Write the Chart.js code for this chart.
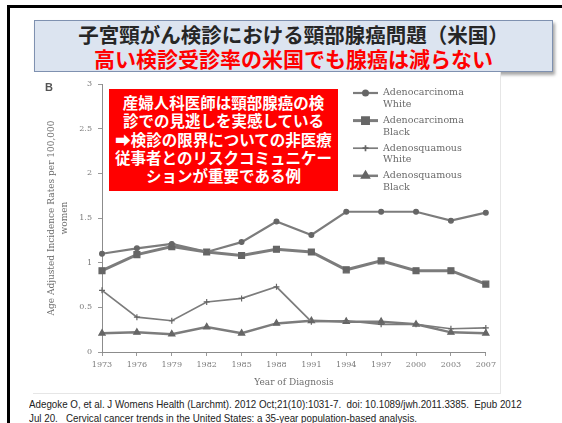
<!DOCTYPE html>
<html lang="ja">
<head>
<meta charset="utf-8">
<title>子宮頸がん検診における頸部腺癌問題（米国）</title>
<script src="https://cdn.jsdelivr.net/npm/chart.js@4.4.1/dist/chart.umd.min.js"></script>
<style>
  html, body { margin: 0; padding: 0; background: #fff; }
  body { width: 562px; height: 423px; position: relative; overflow: hidden; }
  .frame-left { position: absolute; left: 7px; top: 5px; width: 3px; height: 418px; background: #000; }
  .frame-top { position: absolute; left: 7px; top: 5px; width: 555px; height: 3px; background: #000; }
  .title-box {
    position: absolute; left: 34px; top: 20px; width: 517px; height: 50px;
    background: #dce4f0; border: 1px solid #7f91b0;
    box-shadow: 2px 3px 3px rgba(0, 0, 0, 0.35);
    font-family: "Noto Sans CJK JP", sans-serif; font-weight: bold; text-align: center;
  }
  .title-box .l1 { color: #262626; font-size: 20.5px; line-height: 24px; margin-top: 1px; }
  .title-box .l2 { color: #ff0000; font-size: 21px; line-height: 25px; }
  .chart-wrap {
    position: absolute; left: 33px; top: 72px; width: 467px; height: 321px;
    background: #fff; border-right: 1px solid #e6e6e6; border-bottom: 1px solid #e6e6e6;
  }
  .chart-wrap canvas { filter: blur(0.5px); }
  .note {
    position: absolute; left: 109px; top: 89px; width: 229px; height: 102px;
    background: #ff0000; color: #fff; text-align: center;
    font-family: "Noto Sans CJK JP", sans-serif; font-weight: bold;
    font-size: 15.5px; line-height: 18.3px; padding-top: 4px; box-sizing: border-box;
    white-space: nowrap;
  }
  .ref {
    position: absolute; left: 29px; top: 397px;
    font-family: "Liberation Sans", sans-serif;
    font-size: 11px; line-height: 14px; color: #222; white-space: nowrap;
    transform: scaleX(0.89); transform-origin: 0 0;
  }
</style>
</head>
<body>
<div class="frame-left"></div>
<div class="frame-top"></div>
<div class="title-box">
  <div class="l1">子宮頸がん検診における頸部腺癌問題（米国）</div>
  <div class="l2">高い検診受診率の米国でも腺癌は減らない</div>
</div>
<div class="chart-wrap"><canvas id="incidenceChart"></canvas></div>
<div class="note">産婦人科医師は頸部腺癌の検<br>診での見逃しを実感している<br>➡検診の限界についての非医療<br>従事者とのリスクコミュニケー<br>ションが重要である例</div>
<div class="ref">Adegoke O, et al. J Womens Health (Larchmt). 2012 Oct;21(10):1031-7.&nbsp; doi: 10.1089/jwh.2011.3385.&nbsp; Epub 2012<br>Jul 20.&nbsp;&nbsp; Cervical cancer trends in the United States: a 35-year population-based analysis.</div>

<script>
// year of diagnosis (category axis)
const years = ['1973', '1976', '1979', '1982', '1985', '1988', '1991', '1994', '1997', '2000', '2003', '2007'];

// age adjusted incidence rates per 100,000 women
const adenoWhite = [1.10, 1.16, 1.21, 1.12, 1.23, 1.46, 1.31, 1.57, 1.57, 1.57, 1.47, 1.56];
const adenoBlack = [0.91, 1.09, 1.18, 1.12, 1.08, 1.15, 1.12, 0.92, 1.02, 0.91, 0.91, 0.76];
const adsqWhite = [0.69, 0.39, 0.35, 0.56, 0.60, 0.73, 0.34, 0.35, 0.31, 0.31, 0.26, 0.27];
const adsqBlack = [0.21, 0.22, 0.20, 0.28, 0.21, 0.32, 0.35, 0.34, 0.34, 0.31, 0.22, 0.21];

const seriesNames = [
    ['Adenocarcinoma', 'White'],
    ['Adenocarcinoma', 'Black'],
    ['Adenosquamous', 'White'],
    ['Adenosquamous', 'Black']
];

const yTicks = [0, 0.5, 1, 1.5, 2, 2.5, 3];

const serif = 'DejaVu Serif, Liberation Serif, serif';
const lineGray = '#7c7c7c';
const markGray = '#666';

function series(label, data, style, radius, width) {
    return {
        label: label.join(' '),
        data: data,
        borderColor: lineGray,
        borderWidth: width,
        pointStyle: style,
        pointRadius: radius,
        pointBackgroundColor: markGray,
        pointBorderColor: markGray,
        pointBorderWidth: 1.2,
        tension: 0,
        fill: false
    };
}

// legend in the upper right of the plot, two text lines per series
const inlineLegend = {
    id: 'inlineLegend',
    afterDatasetsDraw(chart) {
        const ctx = chart.ctx;
        ctx.save();
        chart.data.datasets.forEach((ds, i) => {
            const y = 21 + i * 27.6;
            ctx.strokeStyle = ds.borderColor;
            ctx.lineWidth = ds.borderWidth;
            ctx.beginPath();
            ctx.moveTo(320, y);
            ctx.lineTo(345, y);
            ctx.stroke();
            ctx.fillStyle = ds.pointBackgroundColor;
            ctx.strokeStyle = ds.pointBorderColor;
            Chart.helpers.drawPoint(ctx, {
                pointStyle: ds.pointStyle,
                radius: ds.pointRadius,
                rotation: 0,
                borderWidth: ds.pointBorderWidth
            }, 332.5, y);
            ctx.fillStyle = '#6a6a6a';
            ctx.font = '9.5px ' + serif;
            ctx.textBaseline = 'middle';
            ctx.textAlign = 'left';
            seriesNames[i].forEach((t, k) => ctx.fillText(t, 350, y + k * 11.5));
        });
        // panel letter
        ctx.fillStyle = '#555';
        ctx.font = 'bold 11px Liberation Sans, sans-serif';
        ctx.fillText('B', 12, 16);
        ctx.restore();
    }
};

const ctx = document.getElementById('incidenceChart').getContext('2d');
const incidenceChart = new Chart(ctx, {
    type: 'line',
    data: {
        labels: years,
        datasets: [
            series(seriesNames[0], adenoWhite, 'circle', 2.4, 2.2),
            series(seriesNames[1], adenoBlack, 'rect', 4.2, 3),
            series(seriesNames[2], adsqWhite, 'cross', 3, 1.7),
            series(seriesNames[3], adsqBlack, 'triangle', 3.6, 2.5)
        ]
    },
    plugins: [inlineLegend],
    options: {
        responsive: true,
        maintainAspectRatio: false,
        animation: false,
        layout: {
            padding: { top: 12, right: 12, left: 0, bottom: 0 }
        },
        plugins: {
            legend: { display: false },
            tooltip: { enabled: false }
        },
        scales: {
            x: {
                type: 'category',
                offset: false,
                afterFit: (scale) => { scale.height = 41; },
                grid: {
                    drawOnChartArea: false,
                    tickLength: 4,
                    color: '#999'
                },
                border: { color: '#8c8c8c', width: 1 },
                ticks: {
                    color: '#7a7a7a',
                    font: { family: serif, size: 8 },
                    padding: 4,
                    maxRotation: 0,
                    autoSkip: false
                },
                title: {
                    display: true,
                    text: 'Year of Diagnosis',
                    color: '#6f6f6f',
                    font: { family: serif, size: 9, lineHeight: 1.2 },
                    padding: { top: 0, bottom: 5 }
                }
            },
            y: {
                min: 0,
                max: 3,
                afterFit: (scale) => { scale.width = 69; },
                afterBuildTicks: (scale) => {
                    scale.ticks = yTicks.map(v => ({ value: v }));
                },
                grid: {
                    drawOnChartArea: false,
                    tickLength: 4,
                    color: '#999'
                },
                border: { color: '#8c8c8c', width: 1 },
                ticks: {
                    color: '#7a7a7a',
                    font: { family: serif, size: 8 },
                    padding: 6,
                    callback: (v) => String(v)
                },
                title: {
                    display: true,
                    text: ['Age Adjusted Incidence Rates per 100,000', 'women'],
                    color: '#6f6f6f',
                    font: { family: serif, size: 9, lineHeight: 1.35 },
                    padding: { top: 13, bottom: 0 }
                }
            }
        }
    }
});
</script>
</body>
</html>
